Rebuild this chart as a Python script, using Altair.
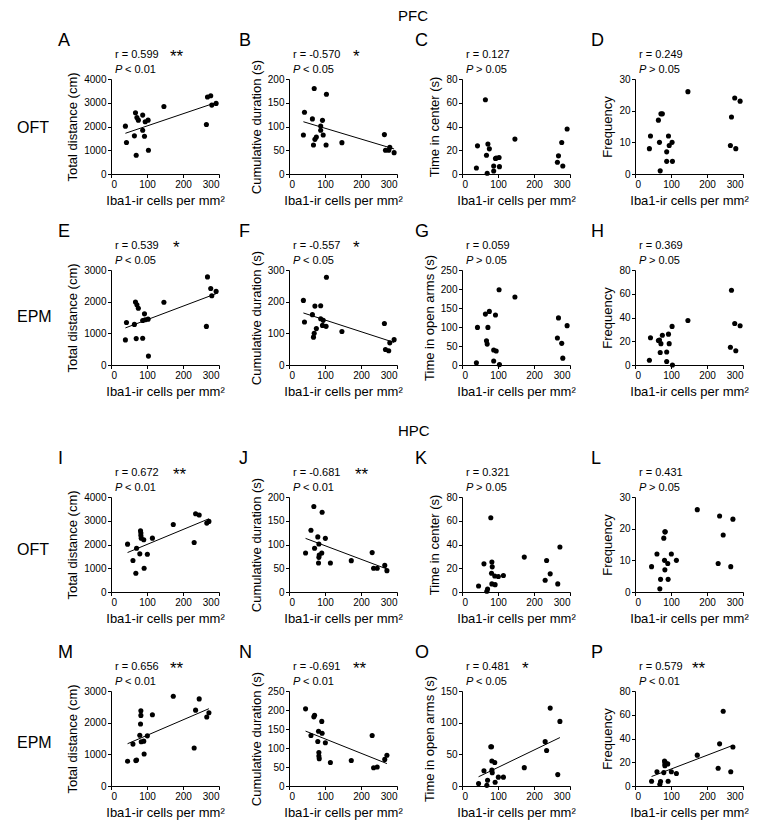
import altair as alt
import pandas as pd

FONT = "Liberation Sans"

# Iba1-ir cells per mm^2 (x values)
pfc_iba1 = [40, 43, 65, 68, 70, 72, 76, 88, 88, 93, 95, 103, 104, 147, 265, 268, 277, 280, 292]
hpc_iba1 = [46, 61, 80, 82, 69, 83, 84, 83, 71, 101, 91, 115, 92, 173, 231, 245, 235, 266, 272]
hpc_iba1_epm = [46, 61, 69, 71, 80, 82, 83, 83, 84, 91, 92, 101, 115, 173, 231, 235, 245, 266, 272]

# OFT behaviour (same animals for PFC and HPC panels)
oft_distance = [2014, 1324, 1606, 2577, 789, 2380, 2268, 2479, 1845, 1592, 2197, 2268, 1000, 2845, 2084, 3239, 3296, 2901, 2972]
oft_duration = [82, 130, 116, 61, 180, 73, 78, 101, 92, 113, 82, 61, 168, 66, 83, 50, 50, 56, 45]
oft_center = [5.1, 23.7, 62.5, 15.8, 0.6, 25.2, 21.2, 6.8, 2.5, 13, 13.5, 13.9, 6.2, 29.4, 9.9, 15.3, 26.5, 6.8, 37.9]
oft_frequency = [8, 12, 17, 10, 1, 19, 19, 7, 4, 12, 9, 10, 4, 26, 9, 18, 24, 8, 23]

# EPM behaviour vs PFC
epm_pfc_distance = [792, 1344, 1282, 1990, 834, 1900, 1790, 844, 1407, 1615, 1428, 1448, 281, 1980, 1219, 2782, 2417, 2188, 2324]
epm_pfc_duration = [204, 136, 159, 88, 100, 186, 115, 187, 146, 125, 141, 122, 277, 106, 131, 49, 45, 70, 80]
epm_pfc_open = [6, 99, 134, 64, 55, 99, 141, 10.5, 39.5, 131.6, 37, 198, 1, 179, 71, 124, 57, 18, 103.5]
epm_pfc_frequency = [4, 23, 20.6, 21, 10.5, 18, 25, 11, 3, 26, 18, 32.5, 0, 37.5, 15, 63, 35, 12, 33]

# EPM behaviour vs HPC
epm_hpc_distance = [781, 1323, 802, 823, 1604, 1959, 2375, 2230, 1396, 1417, 1010, 1583, 2250, 2834, 1198, 2396, 2750, 2177, 2313]
epm_hpc_duration = [203, 133, 182, 186, 117, 144, 88, 79, 72, 170, 139, 114, 62, 67, 133, 48, 50, 70, 81]
epm_hpc_open = [4, 24, 1, 9, 62, 62, 39.5, 25, 21, 37, 6, 14, 14, 29, 70, 56, 123, 18, 102]
epm_hpc_frequency = [4, 12, 1.4, 3.7, 11.3, 21, 18.6, 17, 20, 18.6, 4, 12, 10.5, 26, 15, 35.5, 63, 12, 32.8]

letters = ["A", "B", "C", "D", "E", "F", "G", "H", "I", "J", "K", "L", "M", "N", "O", "P"]
r_texts = ["r = 0.599", "r = -0.570", "r = 0.127", "r = 0.249",
           "r = 0.539", "r = -0.557", "r = 0.059", "r = 0.369",
           "r = 0.672", "r = -0.681", "r = 0.321", "r = 0.431",
           "r = 0.656", "r = -0.691", "r = 0.481", "r = 0.579"]
p_texts = ["< 0.01", "< 0.05", "> 0.05", "> 0.05",
           "< 0.05", "< 0.05", "> 0.05", "> 0.05",
           "< 0.01", "< 0.01", "> 0.05", "> 0.05",
           "< 0.01", "< 0.01", "< 0.05", "< 0.01"]
stars = ["**", "*", "", "", "*", "*", "", "", "**", "**", "", "", "**", "**", "*", "**"]
y_titles = ["Total distance (cm)", "Cumulative duration (s)", "Time in center (s)", "Frequency",
            "Total distance (cm)", "Cumulative duration (s)", "Time in open arms (s)", "Frequency"] * 2
y_max = [4000, 200, 80, 30, 3000, 300, 250, 80, 4000, 200, 80, 30, 3000, 250, 150, 80]
y_step = [1000, 50, 20, 10, 1000, 100, 50, 20, 1000, 50, 20, 10, 1000, 50, 50, 20]

X_TITLE = "Iba1-ir cells per mm\u00b2"
W, H = 108, 95
COL_GAPS = [70, 65, 65]
ROW_GAPS = [96, 132, 99]
LETTER_DX = [-53, -50, -47, -44]
STAR_DX = [59, 64, 0, 0, 62, 64, 0, 0, 62, 66, 0, 0, 59, 64, 60, 57]


def label(text, dx, dy, size, style="normal", align="left"):
    return alt.Chart(pd.DataFrame({"t": [text]})).mark_text(
        align=align, baseline="alphabetic", fontSize=size, fontStyle=style,
        font=FONT, color="black"
    ).encode(text="t:N", x=alt.value(dx), y=alt.value(dy))


def panel(i, xs, ys, extras=()):
    df = pd.DataFrame({"iba1": xs, "value": ys})
    x_enc = alt.X("iba1:Q", scale=alt.Scale(domain=[0, 300], nice=False),
                  axis=alt.Axis(values=[0, 100, 200, 300], title=X_TITLE, format="d"))
    y_enc = alt.Y("value:Q", scale=alt.Scale(domain=[0, y_max[i]], nice=False),
                  axis=alt.Axis(values=list(range(0, y_max[i] + 1, y_step[i])),
                                title=y_titles[i], format="d"))
    layers = [alt.Chart(df).mark_circle(size=26, color="black", opacity=1).encode(x=x_enc, y=y_enc)]
    if stars[i]:
        layers.append(alt.Chart(df).transform_regression("iba1", "value").mark_line(
            color="black", strokeWidth=1).encode(x=x_enc, y=y_enc))
    col = i % 4
    layers.append(label(letters[i], LETTER_DX[col], -33, 18))
    layers.append(label(r_texts[i], 4, -21, 11))
    layers.append(label("P", 4, -6, 11, style="italic"))
    layers.append(label(p_texts[i], 14, -6, 11))
    if stars[i]:
        layers.append(label(stars[i], STAR_DX[i], -17, 17))
    for e in extras:
        layers.append(e)
    return alt.layer(*layers).properties(width=W, height=H)


def spacer(w, h):
    return alt.Chart(pd.DataFrame({"s": [0]})).mark_point(opacity=0, size=1).encode(
        x=alt.value(0), y=alt.value(0)).properties(width=w, height=h)


panels = [
    panel(0, pfc_iba1, oft_distance, [label("OFT", -94, 54, 16)]),
    panel(1, pfc_iba1, oft_duration),
    panel(2, pfc_iba1, oft_center, [label("PFC", -64, -58, 15)]),
    panel(3, pfc_iba1, oft_frequency),
    panel(4, pfc_iba1, epm_pfc_distance, [label("EPM", -94, 52, 16)]),
    panel(5, pfc_iba1, epm_pfc_duration),
    panel(6, pfc_iba1, epm_pfc_open),
    panel(7, pfc_iba1, epm_pfc_frequency),
    panel(8, hpc_iba1, oft_distance, [label("OFT", -94, 58, 16)]),
    panel(9, hpc_iba1, oft_duration),
    panel(10, hpc_iba1, oft_center, [label("HPC", -64, -61, 15)]),
    panel(11, hpc_iba1, oft_frequency),
    panel(12, hpc_iba1_epm, epm_hpc_distance, [label("EPM", -94, 57, 16)]),
    panel(13, hpc_iba1_epm, epm_hpc_duration),
    panel(14, hpc_iba1_epm, epm_hpc_open),
    panel(15, hpc_iba1_epm, epm_hpc_frequency),
]

col_widths = [W, COL_GAPS[0], W, COL_GAPS[1], W, COL_GAPS[2], W]
cells = []
for r in range(7):
    for c in range(7):
        if r % 2 == 0 and c % 2 == 0:
            cells.append(panels[(r // 2) * 4 + c // 2])
        else:
            h = H if r % 2 == 0 else ROW_GAPS[r // 2]
            cells.append(spacer(col_widths[c], h))

chart = alt.concat(*cells, columns=7, spacing=0, bounds="flush").properties(
    padding={"left": 9, "top": 1, "right": 5, "bottom": 5},
    background="white",
).configure_axis(
    grid=False,
    labelFont=FONT, titleFont=FONT,
    labelFontSize=10, titleFontSize=13, titleFontWeight="normal",
    labelColor="black", titleColor="black",
    domainColor="black", tickColor="black",
    domainWidth=1, tickWidth=1, tickSize=3.5,
    labelPadding=1.5, titlePadding=4,
).configure_axisX(labelPadding=2, titlePadding=5).configure_view(stroke=None)

chart.save("out.html", embed_options={"renderer": "svg", "actions": False})
